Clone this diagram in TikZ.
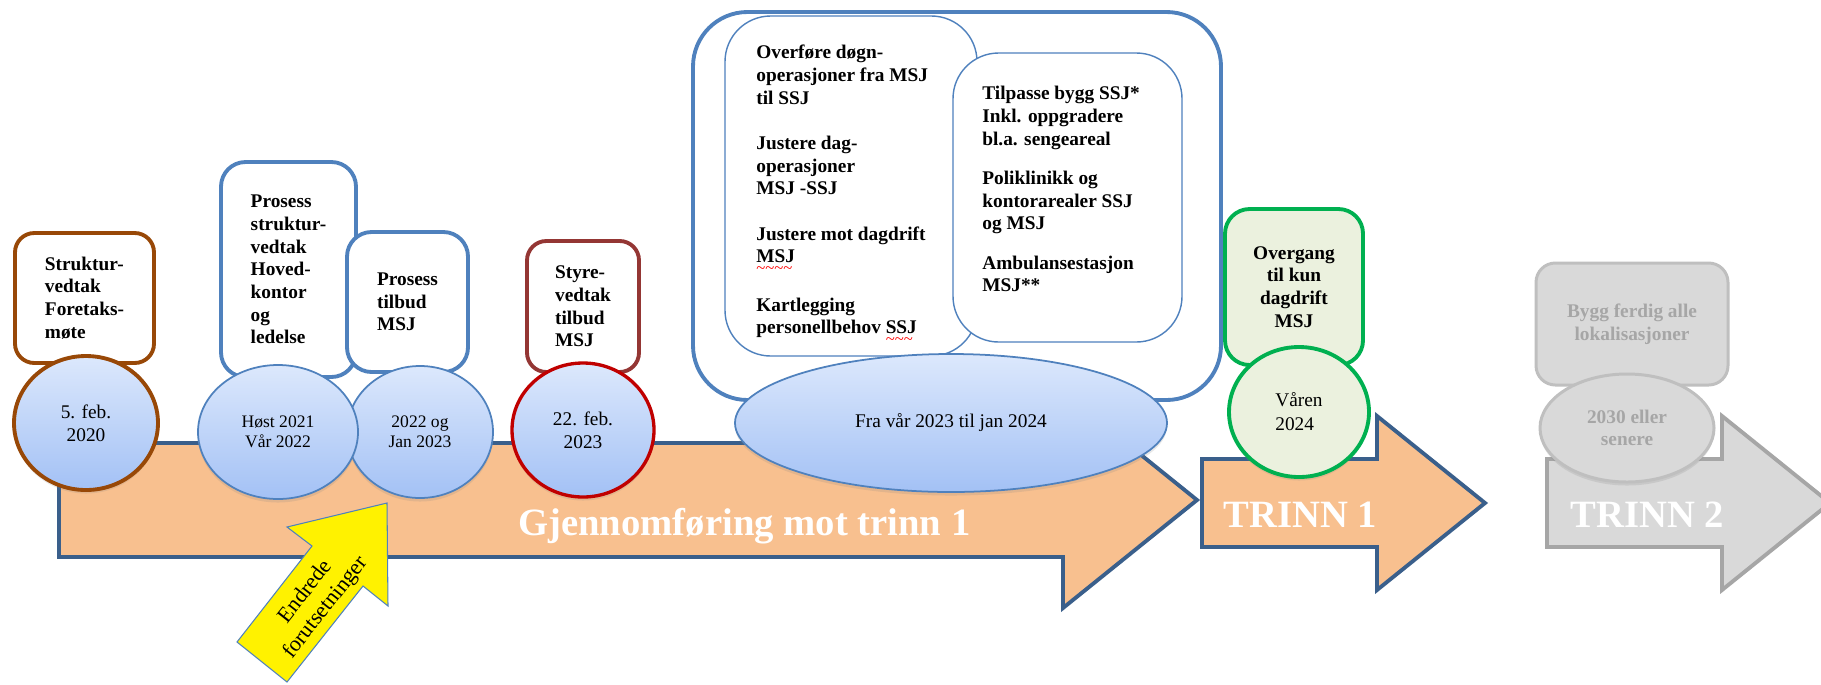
\documentclass[tikz,border=0pt]{standalone}
\usepackage{fontspec}
\setmainfont{Liberation Serif}
\usetikzlibrary{shapes.geometric,shadows}

\definecolor{armfill}{HTML}{F8C08F}
\definecolor{armline}{HTML}{3A5F8B}
\definecolor{blueline}{HTML}{4F81BD}
\definecolor{brownline}{HTML}{984807}
\definecolor{wineline}{HTML}{943634}
\definecolor{redline}{HTML}{C00000}
\definecolor{greenline}{HTML}{00B050}
\definecolor{greenfill}{HTML}{EBF1DE}
\definecolor{greyfill}{HTML}{D9D9D9}
\definecolor{greyline}{HTML}{BFBFBF}
\definecolor{greytext}{HTML}{A6A6A6}
\definecolor{dottop}{HTML}{DCE8FC}
\definecolor{dotbottom}{HTML}{A3C1F5}

% red wavy underline (spell check marks)
\newsavebox\wavebox
\newcommand\spellmark[1]{\sbox\wavebox{#1}%
  \rlap{\raisebox{-6pt}{\textcolor{red}{\fontsize{9.5}{9.5}\selectfont\mdseries
    \leaders\hbox{\char"7E}\hskip\wd\wavebox}}}#1}

\begin{document}
\begin{tikzpicture}[x=0.02cm,y=-0.02cm,
  every node/.style={inner sep=0pt},
  wh/.style 2 args={minimum width=#1*0.02cm,minimum height=#2*0.02cm},
  taskbox/.style={draw,fill=white,rounded corners=11pt,line width=2.2pt,align=left,
    font=\fontsize{11}{12.9}\selectfont\bfseries},
  dateshape/.style={ellipse,draw,align=center,font=\fontsize{11}{13}\selectfont,
    drop shadow={opacity=0.18,shadow xshift=0pt,shadow yshift=-2pt}},
  bluedot/.style={dateshape,draw=blueline,line width=1pt,top color=dottop,bottom color=dotbottom},
  listbox/.style={draw=blueline,line width=0.8pt,fill=white,rounded corners=26pt},
  listtext/.style={anchor=north west,align=left,font=\fontsize{11}{12.9}\selectfont\bfseries},
  bigword/.style={anchor=base west,text=white,font=\fontsize{22}{24}\selectfont\bfseries}]

  \useasboundingbox (0,0) rectangle (1821,684);
  \clip (0,0) rectangle (1821,684);

  % main arrow
  \draw[armline,fill=armfill,line width=2.2pt]
    (59,443) -- (1063,443) -- (1063,392) -- (1197,500) -- (1063,608) -- (1063,557) -- (59,557) -- cycle;

  % changed conditions
  \draw[blueline,fill=yellow,line width=0.6pt]
    (237,642) -- (312,546) -- (287,527) -- (387,503) -- (388,606) -- (363,586) -- (287,682) -- cycle;
  \node[rotate=51.8,align=center,font=\fontsize{12.5}{14.5}\selectfont] (endr) at (316,600)
    {Endrede\\forutsetninger};

  % step arrows
  \foreach \xa/\fc/\dc in {1202/armfill/armline,1547/greyfill/greytext} {
    \draw[\dc,fill=\fc,line width=2.2pt]
      (\xa,459) -- ++(175,0) -- ++(0,-43) -- ++(108,87) -- ++(-108,87) -- ++(0,-43) -- (\xa,547) -- cycle;
  }
  \node[bigword] (gjtext) at (518,535) {Gjennomføring mot trinn 1};
  \node[bigword] (trinnone) at (1223,527) {TRINN 1};
  \node[bigword] (trinntwo) at (1570,527) {TRINN 2};

  % milestones
  \node[taskbox,draw=brownline,wh={139}{130}] (strukt) at (84.5,298) {Struktur-\\vedtak\\Foretaks-\\møte};
  \node[dateshape,draw=brownline,line width=2.2pt,top color=dottop,bottom color=dotbottom,wh={144}{134}]
    (feb20) at (86,423) {5. feb.\\2020};

  \node[taskbox,draw=blueline,rounded corners=14pt,wh={135}{215}] (hoved) at (288.5,269.5)
    {Prosess\\struktur-\\vedtak\\Hoved-\\kontor\\og\\ledelse};
  \node[taskbox,draw=blueline,rounded corners=14pt,wh={121}{140}] (tilbud) at (407.5,302) {Prosess\\tilbud\\MSJ};
  \node[bluedot,wh={146}{132},font=\fontsize{10}{11.4}\selectfont] (jan23) at (420,432) {2022 og\\Jan 2023};
  \node[bluedot,wh={160}{134},font=\fontsize{10}{11.4}\selectfont] (host21) at (278,432) {Høst 2021\\Vår 2022};

  \node[taskbox,draw=wineline,wh={112}{131}] (styre) at (583,306.5) {Styre-\\vedtak\\tilbud\\MSJ};
  \node[dateshape,draw=redline,line width=1.9pt,top color=dottop,bottom color=dotbottom,wh={142}{134}]
    (feb23) at (583,430) {22. feb.\\2023};

  % work package
  \node[draw=blueline,line width=2.2pt,fill=white,rounded corners=31pt,wh={528}{388}] (frame) at (957,206) {};
  \node[listbox,wh={252}{340}] (leftlist) at (851,186) {};
  \node[listbox,wh={229}{289}] (rightlist) at (1067.5,197.5) {};
  \node[listtext] (lefttext) at (756,45)
    {Overføre døgn-\\operasjoner fra MSJ\\til SSJ\\[12.9pt]
     Justere dag-\\operasjoner\\MSJ -SSJ\\[12.9pt]
     Justere mot dagdrift\\\spellmark{MSJ}\\[12.9pt]
     Kartlegging\\personellbehov \spellmark{SSJ}};
  \node[listtext] (righttext) at (982,86)
    {Tilpasse bygg SSJ*\\Inkl. oppgradere\\bl.a. sengeareal\\[9.5pt]
     Poliklinikk og\\kontorarealer SSJ\\og MSJ\\[9.5pt]
     Ambulansestasjon\\MSJ**};
  \node[bluedot,wh={432}{138}] (period) at (951,423) {Fra vår 2023 til jan 2024};

  % stage 1
  \node[taskbox,draw=greenline,fill=greenfill,rounded corners=14pt,align=center,wh={138}{156}]
    (overgang) at (1294,287) {Overgang\\til kun\\dagdrift\\MSJ};
  \node[dateshape,draw=greenline,line width=2.2pt,fill=greenfill,align=left,wh={140}{130},
    font=\fontsize{11}{13.6}\selectfont] (var24) at (1299,412) {Våren\\2024};

  % stage 2
  \node[taskbox,draw=greyline,fill=greyfill,text=greytext,line width=1.7pt,align=center,wh={192}{122}]
    (bygg) at (1632,324) {Bygg ferdig alle\\lokalisasjoner};
  \node[dateshape,draw=greyline,line width=1.7pt,fill=greyfill,text=greytext,wh={174}{108},
    font=\fontsize{11}{12.5}\selectfont\bfseries] (y2030) at (1627,428) {2030 eller\\senere};

\end{tikzpicture}
\end{document}
